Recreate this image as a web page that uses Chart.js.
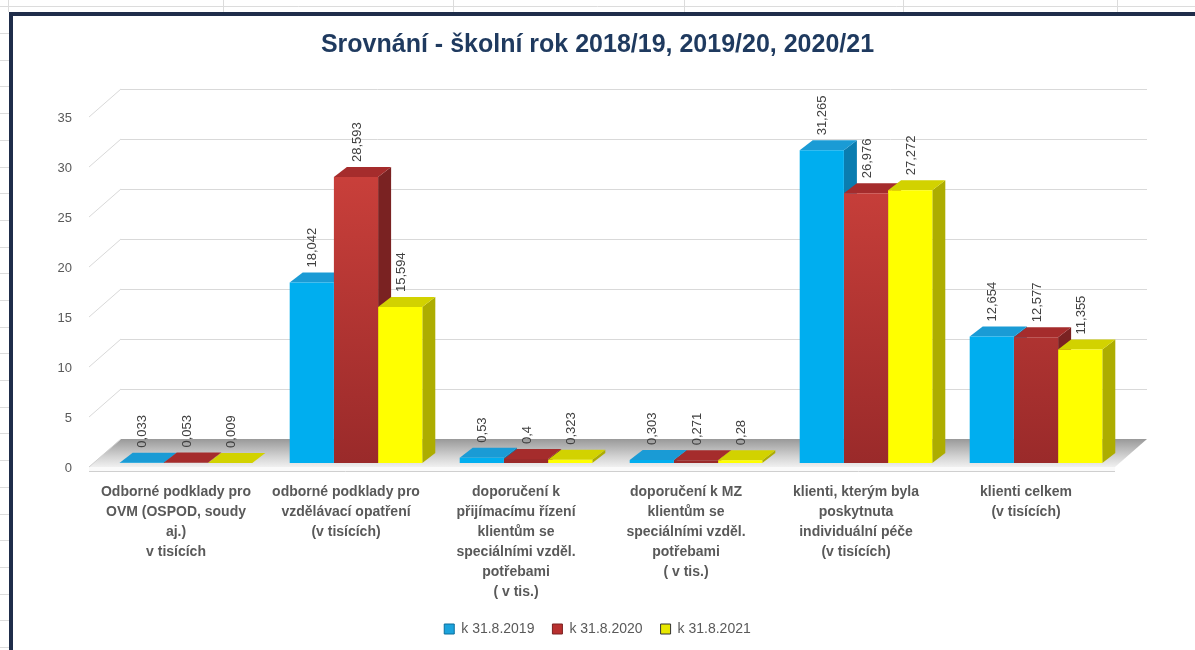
<!DOCTYPE html>
<html>
<head>
<meta charset="utf-8">
<script src="https://cdn.jsdelivr.net/npm/chart.js@4.4.0/dist/chart.umd.min.js"></script>
<style>
  html, body { margin: 0; padding: 0; background: #fff; }
  #wrap { position: relative; width: 1195px; height: 650px; }
</style>
</head>
<body>
<div id="wrap"><canvas id="myChart"></canvas></div>
<script>
// data
const categories = [
  ['Odborné podklady pro', 'OVM (OSPOD, soudy', 'aj.)', 'v tisících'],
  ['odborné podklady pro', 'vzdělávací opatření', '(v tisících)'],
  ['doporučení k', 'přijímacímu řízení', 'klientům se', 'speciálními vzděl.', 'potřebami', '( v tis.)'],
  ['doporučení k MZ', 'klientům se', 'speciálními vzděl.', 'potřebami', '( v tis.)'],
  ['klienti, kterým byla', 'poskytnuta', 'individuální péče', '(v tisících)'],
  ['klienti celkem', '(v tisících)']
];
const seriesNames = ['k 31.8.2019', 'k 31.8.2020', 'k 31.8.2021'];
const values2019 = [0.033, 18.042, 0.53, 0.303, 31.265, 12.654];
const values2020 = [0.053, 28.593, 0.4, 0.271, 26.976, 12.577];
const values2021 = [0.009, 15.594, 0.323, 0.28, 27.272, 11.355];
const yMin = 0, yMax = 35, yStep = 5;

// colours: front, side, top
const faceColors = [
  { front: '#00AEEF', side: '#0A7DB0', top: '#1A9BD5', legend: '#1BA3DC', edge: '#0B6E9C' },
  { front: '#C0392F', side: '#7A2222', top: '#A52C2C', legend: '#B8302F', edge: '#7A2020' },
  { front: '#FFFF00', side: '#ADAD00', top: '#D2D200', legend: '#E8E800', edge: '#333333' }
];

const FONT = "'Liberation Sans', Arial, sans-serif";
const PAD = { top: 16, left: 14, right: 14, bottom: 4 };
const PLOT_LEFT = 101, PLOT_BOTTOM = 463;
const DEPTH = { dx: 32, dy: -28 };   // floor / walls depth
const BAR_DEPTH = { dx: 13, dy: -10 };

function redGradient(context) {
  const chart = context.chart;
  const area = chart.chartArea;
  if (!area) return faceColors[1].front;
  const g = chart.ctx.createLinearGradient(0, area.top, 0, area.bottom);
  g.addColorStop(0, '#D3443E');
  g.addColorStop(1, '#9A2A2A');
  return g;
}

function poly(ctx, pts, fill) {
  ctx.beginPath();
  ctx.moveTo(pts[0][0], pts[0][1]);
  for (let i = 1; i < pts.length; i++) ctx.lineTo(pts[i][0], pts[i][1]);
  ctx.closePath();
  ctx.fillStyle = fill;
  ctx.fill();
}

const excel3d = {
  id: 'excel3d',
  beforeDraw(chart) {
    const ctx = chart.ctx;
    ctx.save();
    ctx.fillStyle = '#fff';
    ctx.fillRect(0, 0, chart.width, chart.height);
    // sheet gridlines around the chart
    ctx.strokeStyle = '#DCDCDC';
    ctx.lineWidth = 1;
    ctx.beginPath();
    ctx.moveTo(0, 6.5); ctx.lineTo(chart.width, 6.5);
    [8, 223, 453, 684, 903, 1117].forEach(x => { ctx.moveTo(x + 0.5, 0); ctx.lineTo(x + 0.5, 12); });
    for (let y = 33; y < chart.height; y += 26.7) { ctx.moveTo(0, Math.round(y) + 0.5); ctx.lineTo(9, Math.round(y) + 0.5); }
    ctx.stroke();
    // chart border
    ctx.fillStyle = '#1F2D4A';
    ctx.fillRect(9, 12, chart.width - 9, 4);
    ctx.fillRect(9, 12, 4, chart.height - 12);
    ctx.restore();
  },
  beforeDatasetsDraw(chart) {
    const ctx = chart.ctx;
    const area = chart.chartArea;
    const y = chart.scales.y;
    const fl = area.left - 12, fr = area.right - 6;
    const fy0 = area.bottom + 4;
    ctx.save();
    // floor
    const bl = fl + DEPTH.dx, br = fr + DEPTH.dx, by0 = fy0 + DEPTH.dy;
    const g = ctx.createLinearGradient(0, by0, 0, fy0);
    g.addColorStop(0, '#999999');
    g.addColorStop(0.6, '#D0D0D0');
    g.addColorStop(1, '#F0F0F0');
    poly(ctx, [[fl, fy0], [bl, by0], [br, by0], [fr, fy0]], g);
    ctx.fillStyle = '#FAFAFA';
    ctx.fillRect(fl, fy0, fr - fl, 4);
    ctx.strokeStyle = '#CFCFCF';
    ctx.lineWidth = 1;
    ctx.beginPath();
    ctx.moveTo(fl, fy0 + 4.5); ctx.lineTo(fr, fy0 + 4.5);
    ctx.moveTo(fl, fy0); ctx.lineTo(bl, by0);
    ctx.stroke();
    // wall gridlines
    ctx.strokeStyle = '#D9D9D9';
    ctx.beginPath();
    y.ticks.forEach(t => {
      if (t.value === 0) return;
      const py = y.getPixelForValue(t.value);
      const fy = py + 4, byy = fy + DEPTH.dy;
      ctx.moveTo(fl, fy); ctx.lineTo(bl, byy);
      ctx.moveTo(bl, Math.round(byy) + 0.5); ctx.lineTo(br, Math.round(byy) + 0.5);
    });
    ctx.stroke();
    // bar sides and tops, left to right
    const metas = chart.data.datasets.map((d, i) => chart.getDatasetMeta(i));
    for (let j = 0; j < categories.length; j++) {
      metas.forEach((meta, i) => {
        const bar = meta.data[j];
        const p = bar.getProps(['x', 'y', 'base', 'width'], true);
        const l = p.x - p.width / 2, r = p.x + p.width / 2;
        const dx = BAR_DEPTH.dx, dy = BAR_DEPTH.dy;
        poly(ctx, [[r, p.y], [r + dx, p.y + dy], [r + dx, p.base + dy], [r, p.base]], faceColors[i].side);
        poly(ctx, [[l, p.y], [l + dx, p.y + dy], [r + dx, p.y + dy], [r, p.y]], faceColors[i].top);
      });
    }
    ctx.restore();
  },
  afterDatasetsDraw(chart) {
    const ctx = chart.ctx;
    ctx.save();
    ctx.fillStyle = '#404040';
    ctx.font = '13px ' + FONT;
    ctx.textAlign = 'left';
    ctx.textBaseline = 'middle';
    chart.data.datasets.forEach((ds, i) => {
      chart.getDatasetMeta(i).data.forEach((bar, j) => {
        const p = bar.getProps(['x', 'y'], true);
        ctx.save();
        ctx.translate(p.x + 1, p.y + BAR_DEPTH.dy - 5);
        ctx.rotate(-Math.PI / 2);
        ctx.fillText(String(ds.data[j]).replace('.', ','), 0, 0);
        ctx.restore();
      });
    });
    ctx.restore();
  }
};

const chart = new Chart(document.getElementById('myChart'), {
  type: 'bar',
  data: {
    labels: categories,
    datasets: [
      { label: seriesNames[0], data: values2019, backgroundColor: faceColors[0].front },
      { label: seriesNames[1], data: values2020, backgroundColor: redGradient },
      { label: seriesNames[2], data: values2021, backgroundColor: faceColors[2].front }
    ]
  },
  options: {
    responsive: true,
    maintainAspectRatio: false,
    animation: false,
    datasets: { bar: { categoryPercentage: 0.78, barPercentage: 1, borderWidth: 0 } },
    layout: { padding: PAD },
    scales: {
      x: {
        grid: { display: false },
        border: { display: false },
        ticks: {
          autoSkip: false, maxRotation: 0, minRotation: 0,
          color: '#595959',
          font: { family: FONT, size: 14, weight: 'bold', lineHeight: 1.43 },
          padding: 11,
          labelOffset: -10
        },
        afterFit(scale) {
          const c = scale.chart;
          scale.height = c.height - PAD.bottom - (c.legend ? c.legend.height : 0) - PLOT_BOTTOM;
        }
      },
      y: {
        min: yMin, max: yMax,
        grid: { display: false },
        border: { display: false },
        ticks: { stepSize: yStep, color: '#595959', font: { family: FONT, size: 13 }, padding: 21, labelOffset: 5 },
        afterFit(scale) { scale.width = PLOT_LEFT - PAD.left; }
      },
      y2: {
        position: 'right',
        grid: { display: false },
        border: { display: false },
        ticks: { display: false },
        afterFit(scale) { scale.width = 60; }
      }
    },
    plugins: {
      title: {
        display: true,
        text: 'Srovnání - školní rok 2018/19, 2019/20, 2020/21',
        color: '#1F3A5F',
        font: { family: FONT, size: 25, weight: 'bold' },
        padding: { top: 14, bottom: 53 }
      },
      legend: {
        position: 'bottom',
        labels: {
          boxWidth: 10, boxHeight: 10, padding: 18,
          color: '#595959',
          font: { family: FONT, size: 14 },
          generateLabels(c) {
            return c.data.datasets.map((ds, i) => ({
              text: ds.label,
              fillStyle: faceColors[i].legend,
              strokeStyle: faceColors[i].edge,
              lineWidth: 1,
              fontColor: '#595959',
              datasetIndex: i,
              hidden: false
            }));
          }
        }
      },
      tooltip: { enabled: false }
    }
  },
  plugins: [excel3d]
});
</script>
</body>
</html>
